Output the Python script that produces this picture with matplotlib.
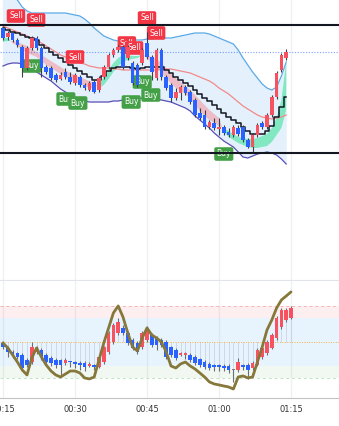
import matplotlib.pyplot as plt
import numpy as np

# ---- price pane, 1-minute candles 00:15 .. 01:14 ----
minutes = np.arange(15, 75)
opens = [272, 263, 267, 260, 253, 232, 252, 262, 252, 233, 232, 225, 221, 228, 223, 217, 223, 215, 210, 218,
         210, 223, 233, 245, 250, 253, 242, 237, 235, 237, 257, 243, 222, 250, 223, 215, 202, 207, 213, 208,
         200, 187, 185, 173, 177, 171, 173, 168, 165, 172, 173, 160, 153, 165, 177, 173, 185, 203, 230, 242]
highs = [274, 269, 269, 262, 255, 254, 264, 264, 254, 235, 234, 227, 228, 232, 228, 227, 225, 217, 219, 220,
         224, 235, 247, 252, 255, 255, 255, 239, 237, 252, 268, 245, 252, 252, 225, 217, 212, 215, 215, 210,
         202, 192, 190, 180, 182, 182, 175, 172, 175, 175, 175, 162, 167, 177, 179, 187, 205, 229, 247, 251]
lows = [260, 260, 258, 253, 223, 230, 250, 250, 223, 226, 220, 218, 220, 221, 216, 215, 213, 210, 209, 207,
        208, 221, 231, 243, 248, 231, 240, 215, 213, 235, 241, 220, 220, 220, 210, 198, 200, 200, 205, 196,
        183, 180, 171, 171, 170, 165, 165, 163, 163, 164, 158, 152, 148, 163, 171, 171, 183, 201, 228, 240]
closes = [262, 267, 260, 255, 232, 252, 262, 252, 232, 228, 222, 220, 225, 223, 218, 225, 215, 212, 217, 208,
          222, 233, 245, 250, 253, 233, 253, 217, 215, 250, 243, 228, 250, 223, 212, 202, 208, 213, 207, 198,
          185, 182, 173, 178, 172, 173, 167, 165, 173, 166, 160, 153, 165, 175, 173, 185, 203, 227, 245, 248]

bb_upper = [315, 310, 305, 300, 293, 289, 287, 287, 287, 287, 287, 287, 287, 287, 286, 285, 284, 281, 277, 272,
            268, 264, 262, 260, 259, 259, 259, 260, 260, 260, 261, 261, 262, 262, 262, 262, 263, 264, 265, 266,
            267, 267, 267, 266, 264, 262, 260, 258, 256, 250, 242, 235, 228, 222, 216, 212, 210, 213, 224, 238]
bb_mid = [274, 272, 270, 268, 266, 264, 262, 260, 257, 254, 251, 248, 245, 243, 241, 239, 237, 236, 234, 233,
          232, 232, 232, 231, 231, 230, 230, 230, 230, 230, 230, 230, 230, 231, 231, 231, 230, 229, 228, 227,
          225, 223, 221, 219, 216, 212, 209, 206, 202, 198, 194, 191, 188, 185, 183, 182, 181, 182, 183, 185]
bb_lower = [234, 236, 237, 237, 236, 234, 231, 228, 225, 222, 219, 215, 211, 208, 205, 202, 200, 199, 198, 198,
            198, 198, 198, 199, 199, 200, 200, 201, 201, 202, 202, 202, 201, 200, 199, 198, 196, 194, 192, 189,
            184, 180, 176, 172, 167, 163, 159, 156, 153, 148, 143, 142, 144, 146, 147, 148, 147, 145, 141, 136]
trail = [272, 270, 268, 267, 265, 263, 262, 260, 255, 252, 248, 245, 242, 238, 235, 232, 229, 226, 223, 220,
         220, 224, 229, 232, 233, 233, 233, 232, 231, 232, 233, 233, 233, 233, 230, 227, 223, 220, 217, 214,
         210, 206, 202, 199, 195, 191, 187, 183, 180, 177, 173, 169, 166, 166, 166, 169, 174, 183, 193, 203]
rib_fast = [262, 262, 257, 254, 250, 247, 245, 243, 239, 235, 232, 229, 226, 223, 220, 218, 216, 214, 212, 212,
            216, 223, 230, 237, 242, 245, 245, 244, 244, 245, 242, 236, 232, 227, 222, 216, 212, 209, 206, 201,
            195, 189, 184, 180, 177, 174, 172, 169, 166, 163, 162, 161, 161, 162, 164, 166, 172, 182, 200, 238]
rib_slow = [258, 259, 259, 258, 256, 254, 251, 248, 245, 242, 239, 236, 233, 230, 227, 225, 223, 221, 219, 217,
            212, 215, 221, 228, 234, 238, 240, 241, 242, 244, 245, 243, 241, 237, 232, 227, 222, 218, 214, 210,
            205, 200, 195, 190, 186, 182, 168, 163, 160, 157, 155, 153, 152, 152, 153, 154, 158, 165, 172, 190]

levels = [275, 147]
last_price = 248

sell_t = [17.7, 21.9, 30.0, 40.8, 42.3, 45.0, 46.9]
sell_p = [284, 280, 243, 257, 252, 282, 267]
buy_t = [21.0, 28.1, 30.6, 41.7, 44.0, 45.8, 61.0]
buy_p = [234, 201, 197, 198, 218, 205, 146]

# ---- oscillator pane, 00:15 .. 01:15 ----
rsi_minutes = np.arange(15, 76)
rsi_open = [49.2, 45, 41.7, 40.8, 39.2, 35, 33.3, 41.7, 43.3, 39.2, 36.7, 35, 35, 32.5, 33.3, 33.3, 32.5, 32.5,
            30, 30.8, 29.2, 33.3, 41.7, 50, 57.5, 61.7, 57.5, 51.7, 49.2, 45.8, 51.7, 55.8, 53.3, 51.7, 50, 45.8,
            43.3, 39.2, 39.2, 39.2, 37.5, 35.8, 33.3, 31.7, 30.8, 30.8, 30, 30, 26.7, 26.7, 30.8, 30.8, 28.3,
            30.8, 37.5, 40.8, 45, 53.3, 62.5, 68.3, 70]
rsi_high = [51, 47, 43, 42, 41, 37, 50, 47, 45, 41, 38, 37, 36, 36.5, 34.5, 34.5, 34, 34, 33, 32, 39, 47, 59,
            66, 70, 64, 59, 53, 51, 59, 63, 57.5, 55, 53, 51.5, 47, 45, 42, 42, 40.5, 39, 37, 35, 33, 32, 32,
            31.5, 31.5, 27.5, 37, 32, 32.5, 34, 45, 46.5, 52, 57.5, 71.5, 78, 78.5, 80]
rsi_low = [44, 37.5, 37, 35.5, 26, 29, 32, 40, 35, 31, 30, 28, 22, 31, 29, 28, 27, 26, 29, 27, 28, 32, 40,
           48.5, 56, 56, 47.5, 43, 40, 44, 50, 46, 43, 46, 36, 37.5, 35, 38, 36, 33, 31, 29, 27.5, 26.5, 26,
           26, 26, 24, 17, 25, 27, 19, 27, 30, 36, 39.5, 44, 52, 61, 67, 69]
rsi_close = [45.8, 41.7, 39.2, 37.5, 28.3, 30.8, 45.8, 45, 37.5, 33.3, 32.5, 30.8, 30.8, 35, 32.5, 31.7, 30.8,
             29.2, 31.7, 29.2, 37.5, 45.8, 57.5, 64.2, 66.7, 57.5, 49.2, 45, 41.7, 57.5, 60, 47.5, 47.5, 47.5,
             37.5, 39.2, 36.7, 40.8, 40.8, 35, 32.5, 30.8, 29.2, 28.3, 29.2, 29.2, 28.3, 26.7, 26.7, 33.3, 29.2,
             26.7, 32.5, 43.3, 45, 50, 55.8, 70, 76.7, 76.7, 78.3]
signal = [49.2, 45, 39.2, 33.3, 26.7, 22.5, 36.7, 45, 37.5, 30.8, 25.8, 22.5, 20.8, 23.3, 25.8, 25.8, 24.2, 20,
          19.2, 20.8, 35, 49.2, 61.7, 74.2, 80, 70.8, 57.5, 45.8, 42.5, 53.3, 61.7, 55.8, 53.3, 50, 41.7, 30,
          28.3, 31.7, 33.3, 30, 27.5, 24.2, 20.8, 16.7, 15, 14.2, 13.3, 12.5, 10.8, 20.8, 21.7, 20, 20.8, 33.3,
          45.8, 60, 68.3, 78.3, 85, 88.3, 91.7]

tick_minutes = [15, 30, 45, 60, 75]
tick_labels = ['00:15', '00:30', '00:45', '01:00', '01:15']

RED = '#f7525f'
BLUE = '#2962ff'
GRID = '#eef0f4'

fig = plt.figure(figsize=(3.39, 4.26), dpi=100)
ax = fig.add_axes([0, 146 / 426, 1, 280 / 426])
ax2 = fig.add_axes([0, 28 / 426, 1, 117 / 426])

# ---------- price pane ----------
for t in tick_minutes:
    ax.axvline(t, color=GRID, lw=1, zorder=0)

ax.fill_between(minutes, bb_lower, bb_upper, color='#e4f1fd', lw=0, zorder=1)
fast = np.array(rib_fast, float)
slow = np.array(rib_slow, float)
ax.fill_between(minutes, fast, slow, where=fast >= slow, interpolate=True,
                color='#3fe39a', alpha=0.6, lw=0, zorder=2)
ax.fill_between(minutes, fast, slow, where=fast < slow, interpolate=True,
                color='#f48a90', alpha=0.5, lw=0, zorder=2)

ax.plot(minutes, bb_upper, color='#5aa9e6', lw=0.9, zorder=3)
ax.plot(minutes, bb_mid, color='#f28a8a', lw=0.9, zorder=3)
ax.plot(minutes, bb_lower, color='#5b4fb5', lw=0.9, zorder=3)
ax.plot(minutes, trail, drawstyle='steps-mid', color='#131722', lw=1.1, zorder=3.5)

for t, p in zip(sell_t, sell_p):
    ax.text(t, p, 'Sell', ha='center', va='center', fontsize=5.5, color='white', zorder=3.6,
            bbox=dict(boxstyle='round,pad=0.3,rounding_size=0.25', fc='#f23645', ec='none'))
for t, p in zip(buy_t, buy_p):
    ax.text(t, p, 'Buy', ha='center', va='center', fontsize=5.5, color='white', zorder=3.6,
            bbox=dict(boxstyle='round,pad=0.3,rounding_size=0.25', fc='#43a047', ec='none'))

o = np.array(opens, float)
c = np.array(closes, float)
cols = np.where(c >= o, RED, BLUE)
ax.vlines(minutes, lows, highs, color='#3c3f4a', lw=0.8, zorder=4)
ax.bar(minutes, np.where(np.abs(c - o) < 1, 1, c - o), bottom=o, width=0.72, color=cols, lw=0, zorder=5)

for lv in levels:
    ax.axhline(lv, color='#131722', lw=1.5, zorder=6)
ax.axhline(last_price, color=BLUE, lw=0.8, ls=(0, (1, 1.5)), alpha=0.6, zorder=2.5)

ax.set_xlim(14.375, 85)
ax.set_ylim(20, 300)
ax.set_xticks([])
ax.set_yticks([])
for s in ['top', 'left', 'right']:
    ax.spines[s].set_visible(False)
ax.spines['bottom'].set_color('#e0e3eb')

# ---------- oscillator pane ----------
for t in tick_minutes:
    ax2.axvline(t, color=GRID, lw=1, zorder=0)
ax2.axhspan(70, 80, color='#f23645', alpha=0.08, lw=0)
ax2.axhspan(30, 70, color='#2196f3', alpha=0.1, lw=0)
ax2.axhspan(20, 30, color='#4caf50', alpha=0.08, lw=0)
ax2.axhline(80, color='#f7b3b8', lw=0.7, ls=(0, (3, 3)))
ax2.axhline(20, color='#c2e3c4', lw=0.7, ls=(0, (3, 3)))
ax2.axhline(50, color='#f5b041', lw=0.7, ls=(0, (1, 1.5)))

ro = np.array(rsi_open, float)
rc = np.array(rsi_close, float)
rh = np.array(rsi_high, float)
rl = np.array(rsi_low, float)
stem_end = np.where(rh < 50, rh, np.where(rl > 50, rl, 50))
ax2.vlines(rsi_minutes, 50, stem_end, color='#c5cde3', lw=0.5, zorder=1)

rcols = np.where(rc > ro, RED, np.where(rc < ro, BLUE, '#787b86'))
ax2.vlines(rsi_minutes, rl, rh, color='#6b6e78', lw=0.8, zorder=3)
ax2.bar(rsi_minutes, np.where(np.abs(rc - ro) < 0.8, 0.8, rc - ro), bottom=ro, width=0.72,
        color=rcols, lw=0, zorder=4)
ax2.plot(rsi_minutes, signal, color='#86773a', lw=2.0, zorder=6, solid_capstyle='round')

ax2.set_xlim(14.375, 85)
ax2.set_ylim(3.3, 100.8)
ax2.set_yticks([])
ax2.set_xticks(tick_minutes)
ax2.set_xticklabels(tick_labels)
ax2.tick_params(axis='x', length=0, labelsize=6, colors='#333333', pad=5)
for s in ['top', 'left', 'right']:
    ax2.spines[s].set_visible(False)
ax2.spines['bottom'].set_color('#c3c3c3')

fig.savefig('out.png', dpi=100)
